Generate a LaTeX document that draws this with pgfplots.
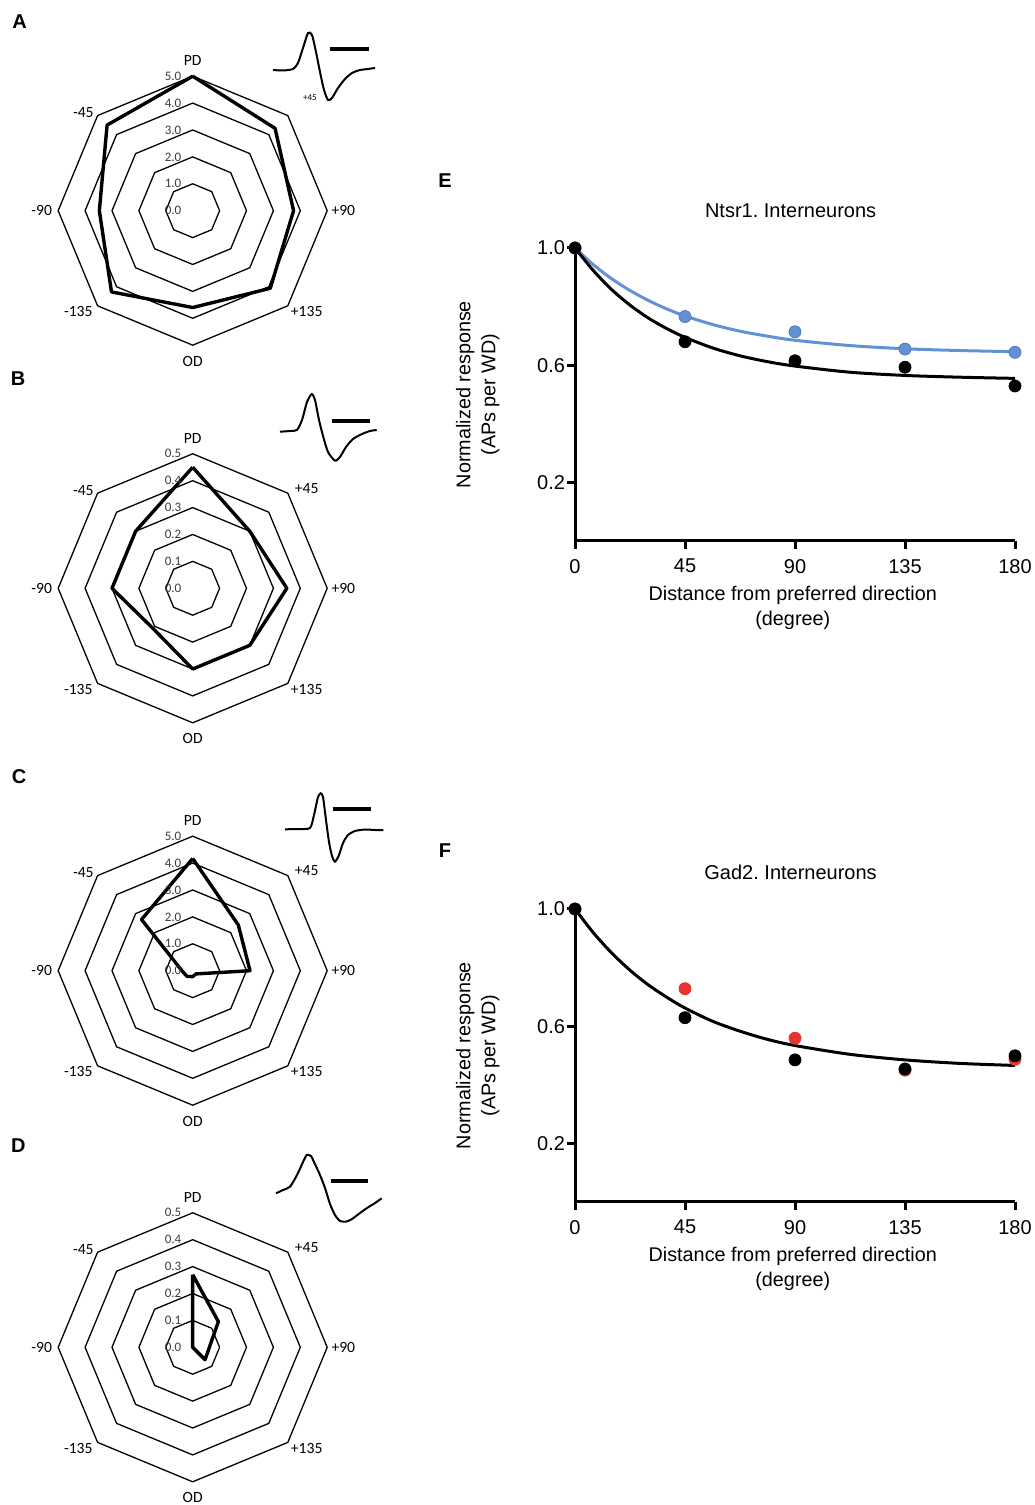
\documentclass[border=0pt]{standalone}
\usepackage{pgfplots}
\pgfplotsset{compat=1.18}
\usepgfplotslibrary{polar}
\usepackage{fontspec}
\setmainfont{Liberation Sans}
\newfontfamily\cali{Carlito}

\definecolor{ptblue}{RGB}{98,146,212}
\definecolor{ptred}{RGB}{230,52,46}
\definecolor{lblgray}{RGB}{60,60,60}

\tikzset{
  rlab/.style={anchor=east, xshift=-5.5pt, font=\cali\fontsize{6.5}{7}\selectfont, text=lblgray, inner sep=0pt},
  dlab/.style={font=\cali\fontsize{7.8}{8}\selectfont, inner sep=0pt},
  panel/.style={font=\fontsize{10}{12}\selectfont\bfseries, inner sep=0pt},
}
\pgfplotsset{
  radar/.style={hide axis, scale only axis, width=134.5pt, height=134.5pt,
    ymin=0, anchor=center, clip=false},
  ring/.style={black, line width=0.65pt, no marks},
  resp/.style={black, line width=1.7pt, no marks, line join=round},
  wave/.style={black, line width=1pt, no marks, smooth, tension=0.4},
  sbar/.style={black, line width=2.2pt, no marks},
  fp/.style={anchor=south west, scale only axis, width=220pt, height=146.5pt,
    xmin=0, xmax=180, ymin=0, ymax=1,
    axis x line=bottom, axis y line=left,
    axis line style={line width=1.5pt, -},
    xtick={0,45,90,135,180}, ytick={0.2,0.6,1.0},
    /pgf/number format/assume math mode=true,
    tick style={line width=1.5pt, black}, major tick length=4pt, tick align=outside,
    ticklabel style={font=\fontsize{10}{12}\selectfont},
    xticklabel style={yshift=-1.5pt},
    yticklabel style={xshift=2.5pt, /pgf/number format/.cd, fixed, fixed zerofill, precision=1},
    every axis y label/.style={at={(axis description cs:-0.221,0.5)}, rotate=90, anchor=center,
      align=center, font=\fontsize{9.9}{12.5}\selectfont},
    every axis x label/.style={at={(axis description cs:0.495,-0.227)}, anchor=center,
      align=center, font=\fontsize{9.9}{12.5}\selectfont},
    every axis title/.style={at={(axis description cs:0.49,1.126)}, anchor=center,
      font=\fontsize{10}{11}\selectfont},
    xlabel={Distance from preferred direction\\(degree)},
    ylabel={Normalized response\\(APs per WD)},
    clip=false},
  fit/.style={line width=1.5pt, no marks, smooth},
  pts/.style={only marks, mark=*, mark size=3pt},
}

\newcommand\rings[1]{\pgfplotsinvokeforeach{#1}{%
  \addplot[ring] coordinates {(0,##1)(45,##1)(90,##1)(135,##1)(180,##1)(225,##1)(270,##1)(315,##1)(360,##1)};}}
\newcommand\ringlabels[1]{\pgfplotsinvokeforeach{#1}{\node[rlab] at (axis cs:90,##1) {##1};}}
\newcommand\dirlabels{%
  \node[dlab,yshift=75pt] at (axis cs:0,0) {PD};
  \node[dlab,yshift=-75.2pt] at (axis cs:0,0) {OD};
  \node[dlab,xshift=-75.5pt] at (axis cs:0,0) {-90};
  \node[dlab,xshift=75.3pt] at (axis cs:0,0) {+90};
  \node[dlab,xshift=-54.7pt,yshift=49pt] at (axis cs:0,0) {-45};
  \node[dlab,xshift=-57.2pt,yshift=-50.5pt] at (axis cs:0,0) {-135};
  \node[dlab,xshift=57pt,yshift=-50.5pt] at (axis cs:0,0) {+135};}
\newcommand\plusff{\node[dlab,xshift=57pt,yshift=50pt] at (axis cs:0,0) {+45};}

\begin{document}
\frenchspacing
\begin{tikzpicture}[x=0.5pt,y=0.5pt]
\path[use as bounding box] (0,0) rectangle (1034,1505);

% waveform insets, drawn in page pixel coordinates
\begin{axis}[at={(0pt,0pt)}, anchor=south west, scale only axis, width=517pt, height=752.5pt,
  xmin=0, xmax=1034, ymin=0, ymax=1505, y dir=reverse, hide axis, clip=false]
\addplot[wave] coordinates {(273,70)(283,70.5)(293,69)(298,63)(303,48)(308,33)(312,35)(316,52)(320,72)(324,90)(328,100)(332,98)(338,88)(345,79)(352,73)(360,70)(368,69)(375,68)};
\addplot[sbar] coordinates {(330,49)(369,49)};
\addplot[wave] coordinates {(280,431.7)(290,431)(297,430)(302,420)(307,402)(311.7,394)(315,400)(319,420)(323.3,437)(328,452)(335,460.7)(340,457)(346,447)(353,439)(362,434)(370,431)(376.7,430)};
\addplot[sbar] coordinates {(331.7,420.7)(370,420.7)};
\addplot[wave] coordinates {(285,829.3)(298,829)(310,828)(314,815)(318,797)(320.7,793.3)(323,797)(326,820)(329,842)(332,856)(335,861.7)(339,855)(343,843)(348,835)(355,831)(365,829.5)(375,830)(383.3,830)};
\addplot[sbar] coordinates {(332.7,809)(370.7,809)};
\addplot[wave] coordinates {(276,1193.3)(283,1190)(290,1186.7)(297,1175)(303,1162)(306.7,1155)(311,1156)(314,1162)(320,1175)(325,1188)(330,1204)(335,1215)(340,1221)(346,1221.7)(352,1219)(360,1213)(367,1208)(375,1203)(381.7,1198.3)};
\addplot[sbar] coordinates {(330.7,1180.7)(368.3,1180.7)};
\node[font=\cali\fontsize{4.5}{5}\selectfont, inner sep=0pt] at (axis cs:310,98) {+45};
\end{axis}

% A
\begin{polaraxis}[radar, at={(96.35pt,647.15pt)}, ymax=5]
\rings{1,2,3,4,5}
\addplot[resp] coordinates {(90,5)(45,4.33)(0,3.75)(-45,4.08)(-90,3.6)(-135,4.27)(-180,3.47)(-225,4.5)(-270,5)};
\ringlabels{0.0,1.0,2.0,3.0,4.0,5.0}
\dirlabels
\end{polaraxis}

% B
\begin{polaraxis}[radar, at={(96.35pt,458.35pt)}, ymax=0.5]
\rings{0.1,0.2,0.3,0.4,0.5}
\addplot[resp] coordinates {(90,0.45)(45,0.30)(0,0.35)(-45,0.30)(-90,0.30)(-135,0.21)(-180,0.30)(-225,0.30)(-270,0.45)};
\ringlabels{0.0,0.1,0.2,0.3,0.4,0.5}
\dirlabels\plusff
\end{polaraxis}

% C
\begin{polaraxis}[radar, at={(96.35pt,267.15pt)}, ymax=5]
\rings{1,2,3,4,5}
\addplot[resp] coordinates {(90,4.17)(45,2.4)(0,2.13)(-45,0.17)(-90,0.22)(-135,0.3)(-180,0.4)(-225,2.69)(-270,4.17)};
\ringlabels{0.0,1.0,2.0,3.0,4.0,5.0}
\dirlabels\plusff
\end{polaraxis}

% D
\begin{polaraxis}[radar, at={(96.35pt,78.85pt)}, ymax=0.5]
\rings{0.1,0.2,0.3,0.4,0.5}
\addplot[resp] coordinates {(90,0.27)(45,0.135)(0,0.062)(-45,0.065)(-90,0)(-135,0)(-180,0)(-225,0)(-270,0.27)};
\ringlabels{0.0,0.1,0.2,0.3,0.4,0.5}
\dirlabels\plusff
\end{polaraxis}

% E
\begin{axis}[fp, at={(287.5pt,482pt)}, title={Ntsr1. Interneurons}]
\addplot[fit, ptblue] coordinates {(0,1.0)(7.5,0.943)(15,0.895)(22.5,0.855)(30,0.821)(37.5,0.792)(45,0.768)(56.25,0.739)(67.5,0.716)(78.75,0.699)(90,0.685)(112.5,0.667)(135,0.656)(157.5,0.650)(180,0.646)};
\addplot[fit, black] coordinates {(0,1.0)(7.5,0.923)(15,0.858)(22.5,0.805)(30,0.761)(37.5,0.725)(45,0.695)(56.25,0.659)(67.5,0.632)(78.75,0.612)(90,0.597)(112.5,0.576)(135,0.565)(157.5,0.559)(180,0.555)};
\addplot[pts, ptblue, mark options={fill=ptblue, draw=ptblue!85!black}] coordinates {(0,1.0)(45,0.766)(90,0.714)(135,0.655)(180,0.644)};
\addplot[pts, black] coordinates {(0,1.0)(45,0.68)(90,0.615)(135,0.593)(180,0.529)};
\end{axis}

% F
\begin{axis}[fp, at={(287.5pt,151.5pt)}, title={Gad2. Interneurons}]
\addplot[fit, black] coordinates {(0,1.0)(7.5,0.919)(15,0.850)(22.5,0.791)(30,0.741)(37.5,0.699)(45,0.662)(56.25,0.617)(67.5,0.583)(78.75,0.555)(90,0.534)(112.5,0.504)(135,0.485)(157.5,0.473)(180,0.466)};
\addplot[pts, ptred, mark options={fill=ptred, draw=ptred}] coordinates {(0,1.0)(45,0.728)(90,0.559)(135,0.45)(180,0.487)};
\addplot[pts, black] coordinates {(0,1.0)(45,0.629)(90,0.485)(135,0.454)(180,0.499)};
\end{axis}

% panel letters
\node[panel] at (19.5,1483) {A};
\node[panel] at (18,1126) {B};
\node[panel] at (19,728.3) {C};
\node[panel] at (18.3,359.5) {D};
\node[panel] at (445,1324) {E};
\node[panel] at (445,654) {F};
\end{tikzpicture}
\end{document}
